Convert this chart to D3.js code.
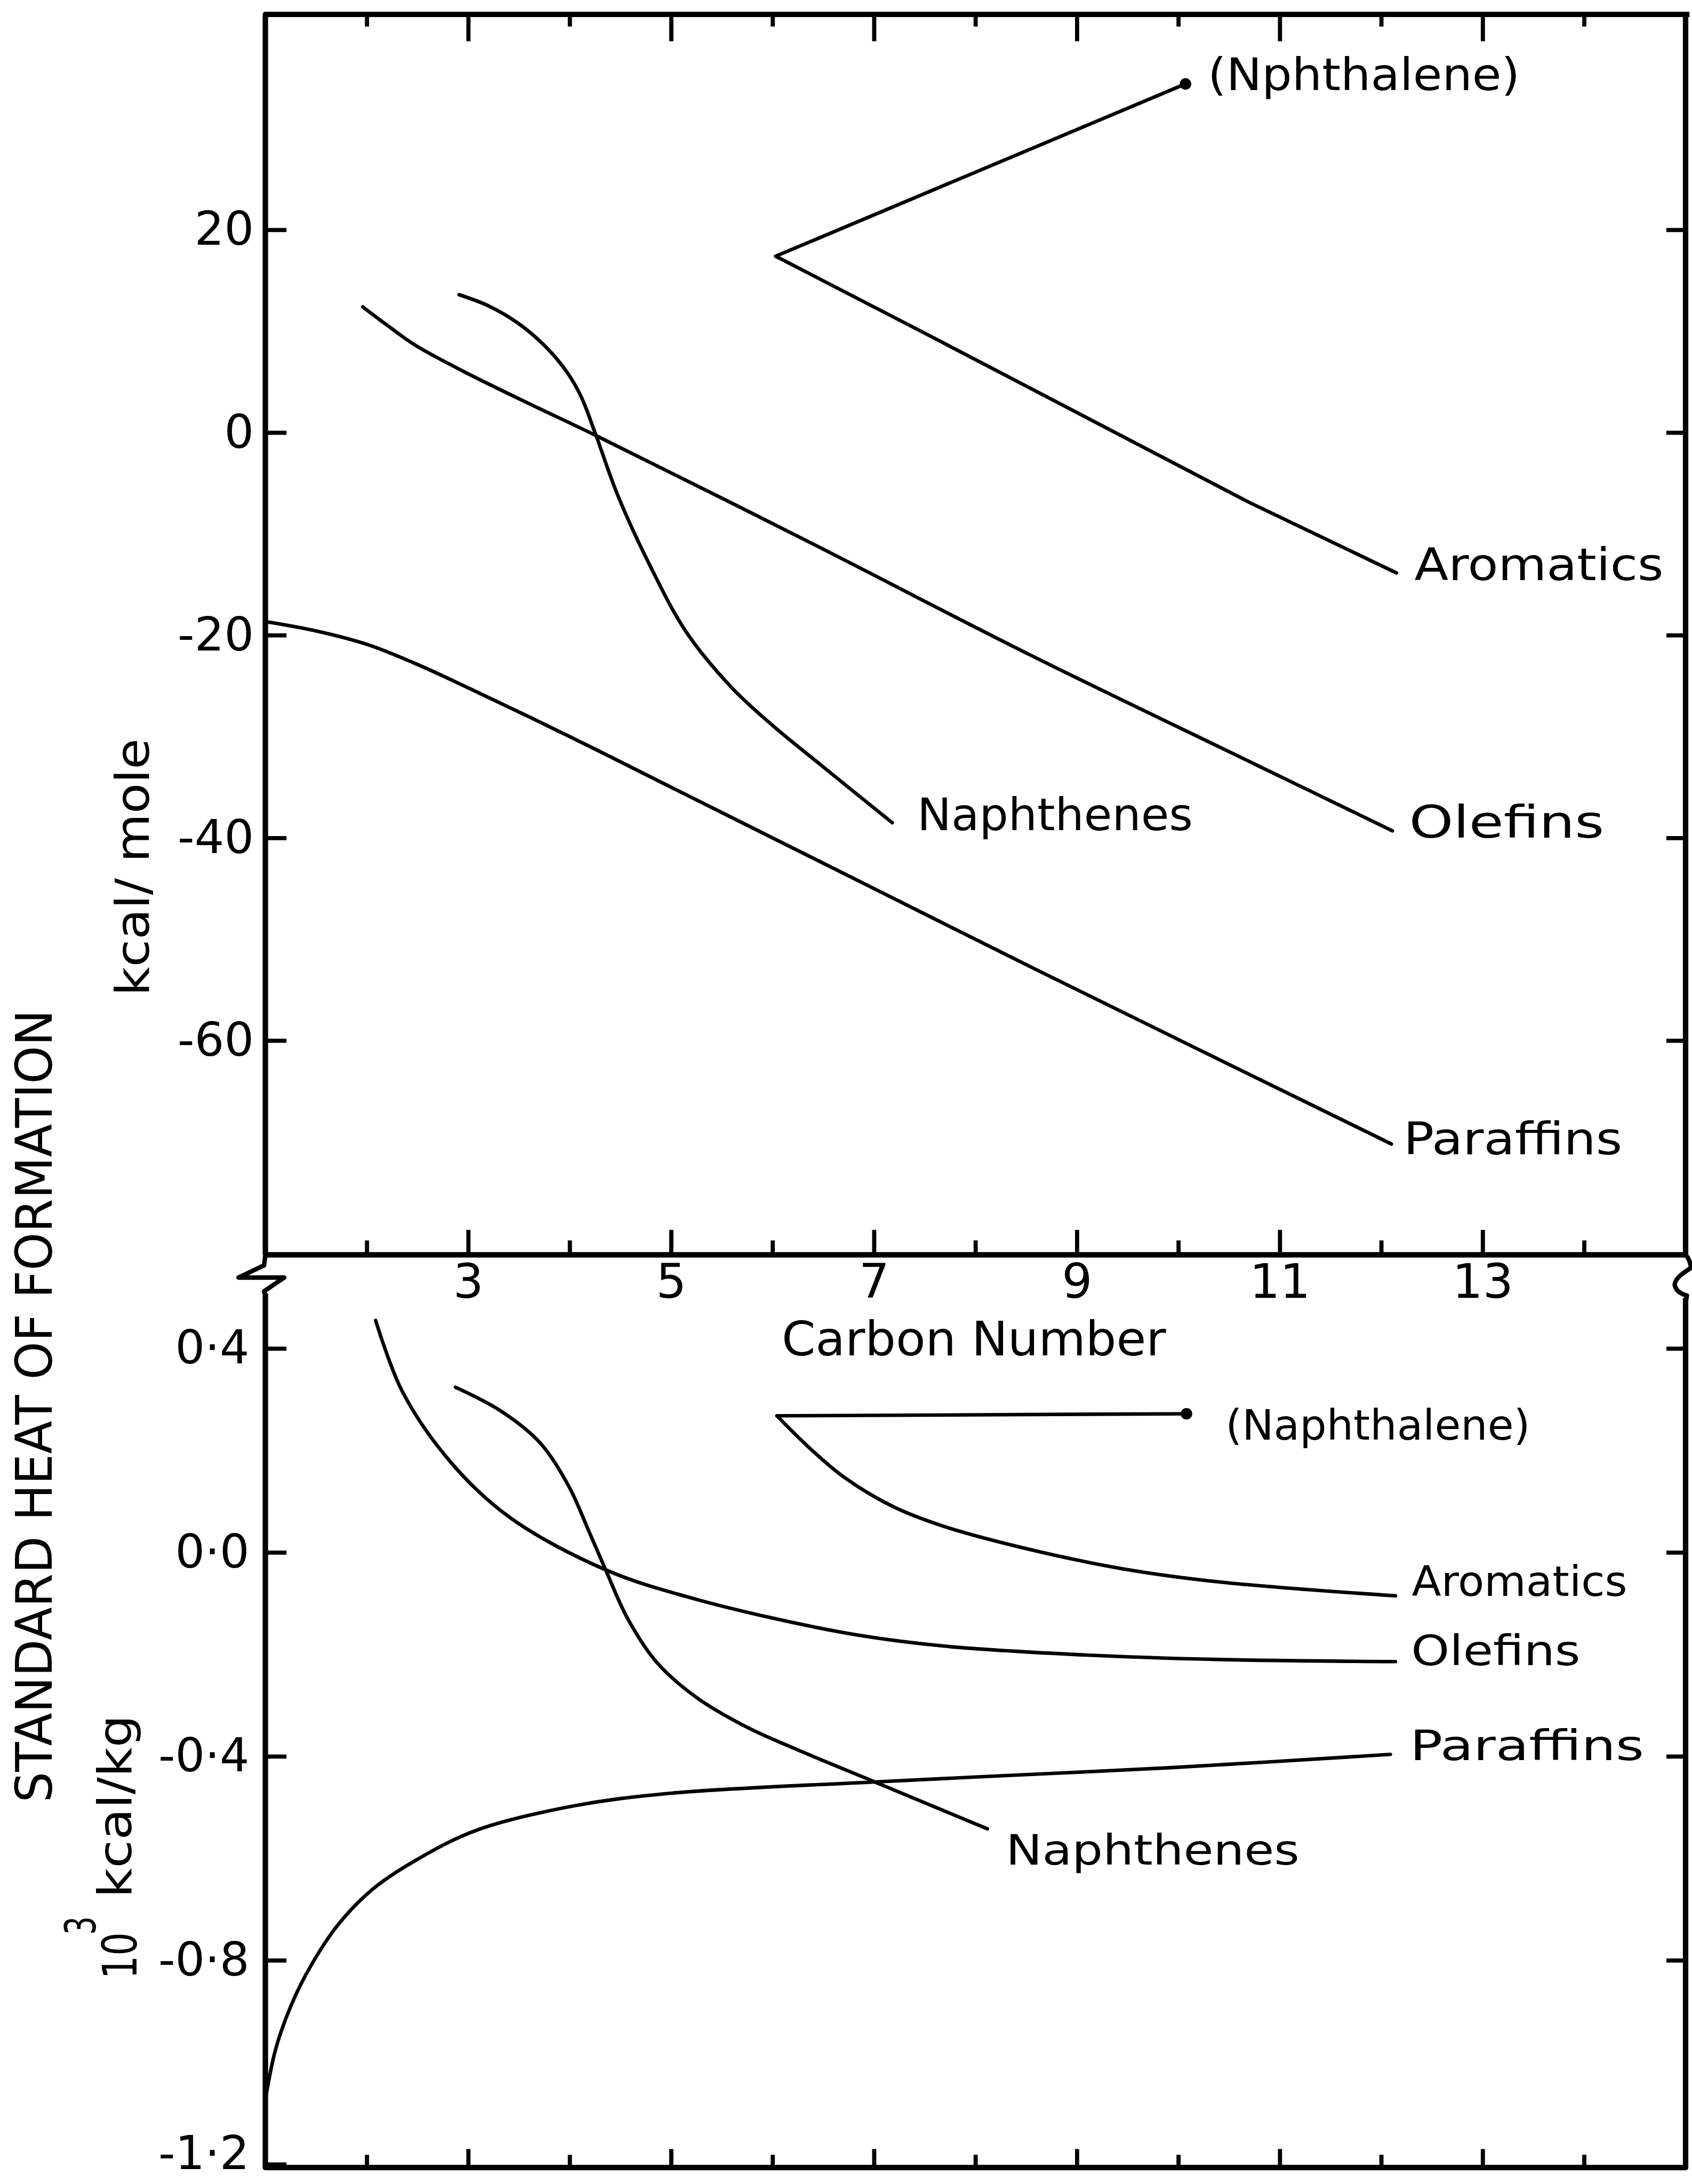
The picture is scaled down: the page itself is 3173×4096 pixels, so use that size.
<!DOCTYPE html>
<html>
<head>
<meta charset="utf-8">
<script src="https://cdn.jsdelivr.net/npm/d3@7"></script>
<style>
  html, body { margin: 0; padding: 0; background: #fff; }
  svg { display: block; }
</style>
</head>
<body>
<script>
// carbon number axis
const carbonMajor = [3, 5, 7, 9, 11, 13];
const carbonMinor = [2, 4, 6, 8, 10, 12, 14];
const moleTicks = [20, 0, -20, -40, -60];
const kgTicks = [0.4, 0, -0.4, -0.8, -1.2];

// upper panel, kcal/mole  [carbon number, value]
const paraffinsMole = [[1.03, -18.7], [1.51, -19.6], [2.0, -20.9], [2.48, -22.8], [2.96, -25.0],
  [4.0, -30.0], [5.0, -35.0], [7.04, -45.2], [8.6, -53.0], [12.1, -70.2]];
const olefinsMole = [[1.96, 12.4], [2.24, 10.3], [2.48, 8.6], [2.96, 6.0], [3.59, 2.9], [4.26, -0.3],
  [6.34, -10.7], [8.55, -22.0], [10.77, -32.8], [12.11, -39.3]];
const naphthenesMole = [[2.91, 13.6], [3.2, 12.5], [3.49, 10.8], [3.77, 8.4], [3.97, 6.0], [4.11, 3.6],
  [4.26, -0.3], [4.47, -6.1], [4.8, -13.3], [5.15, -19.7], [5.6, -25.2], [6.0, -28.9], [6.5, -33.0], [7.18, -38.5]];
const aromaticsMole = [[10.07, 34.4], [6.03, 17.4], [7.52, 9.7], [10.7, -6.9], [12.15, -13.85]];

// lower panel, 10^3 kcal/kg
const paraffinsKg = [[1.0, -1.073], [1.1, -0.975], [1.25, -0.89], [1.45, -0.81], [1.725, -0.728],
  [2.06, -0.66], [2.497, -0.602], [3.077, -0.545], [4.04, -0.497], [5.006, -0.472], [7.007, -0.45],
  [8.47, -0.436], [9.93, -0.422], [12.09, -0.396]];
const olefinsKg = [[2.087, 0.455], [2.352, 0.315], [2.836, 0.175], [3.414, 0.068], [4.354, -0.034],
  [5.25, -0.092], [6.695, -0.157], [7.66, -0.183], [8.97, -0.2], [10.41, -0.21], [12.14, -0.214]];
const naphthenesKg = [[2.874, 0.324], [3.317, 0.278], [3.703, 0.216], [3.993, 0.129], [4.186, 0.043],
  [4.354, -0.034], [4.572, -0.13], [4.86, -0.216], [5.247, -0.284], [5.73, -0.341], [6.21, -0.384],
  [7.007, -0.45], [8.117, -0.542]];
const aromaticsKg = [[6.043, 0.268], [6.358, 0.206], [6.695, 0.149], [7.177, 0.091], [7.66, 0.053],
  [8.47, 0.009], [9.45, -0.032], [10.41, -0.058], [12.14, -0.085]];
const naphthaleneKg = [[6.043, 0.268], [10.08, 0.272]];

const FONT = 'DejaVu Sans';
const W = 3173, H = 4096;
const k = W / 5292; // drawn in reference pixels, then scaled

const svg = d3.select('body').append('svg')
  .attr('width', W).attr('height', H);
svg.append('rect').attr('width', W).attr('height', H).attr('fill', '#fff');

const g = svg.append('g').attr('transform', `scale(${k})`);

const left = 830, right = 5272;
const topY = 45, midY = 3925, botY = 6780;

const x = d3.scaleLinear().domain([1, 15]).range([left, right]);
const yTop = d3.scaleLinear().domain([-80, 40]).range([3889, 85]);
const yBot = d3.scaleLinear().domain([-1.2, 0.4]).range([6770, 4218]);

// frame
const frame = g.append('g').attr('fill', 'none').attr('stroke', '#000')
  .attr('stroke-width', 17).attr('stroke-linejoin', 'round');

frame.append('path')
  .attr('d', `M${left},${midY} V${topY} H${right + 12} M${right},${topY} V${midY} M${left},${midY} H${right}`);
frame.append('path')
  .attr('d', `M${left},4046 V${botY} H${right} V4060`);
// axis break marks
frame.append('path').attr('stroke-width', 14)
  .attr('d', `M${left},${midY} L${left - 4},3958 L${left - 84},3996 L${left + 59},3996 L${left - 4},4039 L${left},4050`);
frame.append('path').attr('stroke-width', 14)
  .attr('d', `M${right},${midY} Q${right + 14},3940 ${right + 17},3966 Q${right - 36},3998 ${right - 34},4020 Q${right - 28},4045 ${right + 4},4052 L${right + 2},4066`);

function styleAxis(sel, fs) {
  sel.select('.domain').remove();
  sel.selectAll('.tick line').attr('stroke', '#000').attr('stroke-width', 13);
  sel.selectAll('.tick text')
    .attr('font-family', FONT).attr('font-size', fs).attr('fill', '#000');
}

// upper panel: top edge ticks
g.append('g').attr('transform', `translate(0,${topY})`)
  .call(d3.axisTop(x).tickValues(carbonMinor).tickSize(-38).tickFormat(''))
  .call(styleAxis, 0);
g.append('g').attr('transform', `translate(0,${topY})`)
  .call(d3.axisTop(x).tickValues(carbonMajor).tickSize(-84).tickFormat(''))
  .call(styleAxis, 0);

// upper panel: bottom edge ticks + carbon number labels
g.append('g').attr('transform', `translate(0,${midY})`)
  .call(d3.axisBottom(x).tickValues(carbonMinor).tickSize(-45).tickFormat(''))
  .call(styleAxis, 0);
g.append('g').attr('transform', `translate(0,${midY})`)
  .call(d3.axisBottom(x).tickValues(carbonMajor).tickSize(-78).tickPadding(28).tickFormat(d3.format('d')))
  .call(styleAxis, 150);

// lower panel: bottom edge ticks
g.append('g').attr('transform', `translate(0,${botY})`)
  .call(d3.axisBottom(x).tickValues(carbonMinor).tickSize(-40).tickFormat(''))
  .call(styleAxis, 0);
g.append('g').attr('transform', `translate(0,${botY})`)
  .call(d3.axisBottom(x).tickValues(carbonMajor).tickSize(-58).tickFormat(''))
  .call(styleAxis, 0);

// y axes
g.append('g').attr('transform', `translate(${left},0)`)
  .call(d3.axisLeft(yTop).tickValues(moleTicks).tickSize(-66).tickPadding(36)
    .tickFormat(d => d3.format('d')(d).replace('−', '-')))
  .call(styleAxis, 146);
g.append('g').attr('transform', `translate(${right},0)`)
  .call(d3.axisRight(yTop).tickValues(moleTicks).tickSize(-60).tickFormat(''))
  .call(styleAxis, 0);

const kgAxis = g.append('g').attr('transform', `translate(${left},0)`)
  .call(d3.axisLeft(yBot).tickValues(kgTicks).tickSize(-66).tickPadding(50)
    .tickFormat(d => d3.format('.1f')(d).replace('−', '-').replace('.', '·')))
  .call(styleAxis, 146);
// keep the lowest label inside the page
kgAxis.selectAll('.tick text').filter(d => d === -1.2).attr('dy', '0.1em');

g.append('g').attr('transform', `translate(${right},0)`)
  .call(d3.axisRight(yBot).tickValues(kgTicks.slice(0, 4)).tickSize(-60).tickFormat(''))
  .call(styleAxis, 0);

// curves
const curves = g.append('g').attr('fill', 'none').attr('stroke', '#000')
  .attr('stroke-width', 11).attr('stroke-linecap', 'round').attr('stroke-linejoin', 'round');

const smooth = d3.curveCatmullRom.alpha(0.5);
const lineTop = d3.line().x(d => x(d[0])).y(d => yTop(d[1])).curve(smooth);
const lineTopLin = d3.line().x(d => x(d[0])).y(d => yTop(d[1]));
const lineBot = d3.line().x(d => x(d[0])).y(d => yBot(d[1])).curve(smooth);
const lineBotLin = d3.line().x(d => x(d[0])).y(d => yBot(d[1]));

curves.append('path').attr('d', lineTop(paraffinsMole));
curves.append('path').attr('d', lineTop(olefinsMole));
curves.append('path').attr('d', lineTop(naphthenesMole));
curves.append('path').attr('d', lineTopLin(aromaticsMole));

curves.append('path').attr('d', lineBot(paraffinsKg));
curves.append('path').attr('d', lineBot(olefinsKg));
curves.append('path').attr('d', lineBot(naphthenesKg));
curves.append('path').attr('d', lineBot(aromaticsKg));
curves.append('path').attr('d', lineBotLin(naphthaleneKg));

// naphthalene end dots
g.append('circle').attr('cx', x(aromaticsMole[0][0])).attr('cy', yTop(aromaticsMole[0][1]))
  .attr('r', 18).attr('fill', '#000');
g.append('circle').attr('cx', x(naphthaleneKg[1][0])).attr('cy', yBot(naphthaleneKg[1][1]))
  .attr('r', 18).attr('fill', '#000');

// series labels, placed from the end point of each series
function label(text, pt, y, dx, dy, fs, len) {
  g.append('text')
    .attr('x', x(pt[0]) + dx).attr('y', y(pt[1]) + dy)
    .attr('font-family', FONT).attr('font-size', fs).attr('fill', '#000')
    .attr('textLength', len).attr('lengthAdjust', 'spacingAndGlyphs')
    .text(text);
}
const last = a => a[a.length - 1];

label('(Nphthalene)', aromaticsMole[0], yTop, 70, 19, 140, 976);
label('Aromatics', last(aromaticsMole), yTop, 56, 23, 140, 779);
label('Olefins', last(olefinsMole), yTop, 52, 22, 140, 610);
label('Naphthenes', last(naphthenesMole), yTop, 78, 23, 140, 862);
label('Paraffins', last(paraffinsMole), yTop, 38, 33, 140, 684);

label('(Naphthalene)', last(naphthaleneKg), yBot, 122, 81, 132, 953);
label('Aromatics', last(aromaticsKg), yBot, 51, 0, 132, 674);
label('Olefins', last(olefinsKg), yBot, 49, 12, 132, 529);
label('Paraffins', last(paraffinsKg), yBot, 61, 18, 132, 732);
label('Naphthenes', last(naphthenesKg), yBot, 58, 112, 132, 918);

// axis titles
g.append('text')
  .attr('x', 2445).attr('y', 4240)
  .attr('font-family', FONT).attr('font-size', 150)
  .attr('textLength', 1202).attr('lengthAdjust', 'spacingAndGlyphs')
  .text('Carbon Number');

function vtext(text, px, py, fs, len) {
  g.append('text')
    .attr('transform', `translate(${px},${py}) rotate(-90)`)
    .attr('font-family', FONT).attr('font-size', fs).attr('fill', '#000')
    .attr('textLength', len).attr('lengthAdjust', 'spacingAndGlyphs')
    .text(text);
}
vtext('STANDARD HEAT OF FORMATION', 162, 5638, 158, 2480);
vtext('kcal/ mole', 466, 3115, 146, 805);
vtext('10', 427, 6190, 150, 146);
vtext('3', 298, 6052, 134, 58);
vtext('kcal/kg', 410, 5936, 146, 572);
</script>
</body>
</html>
